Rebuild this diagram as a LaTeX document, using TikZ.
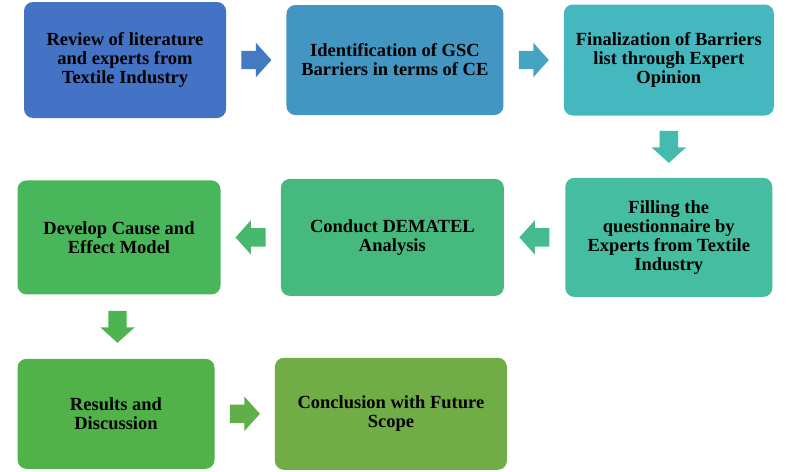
\documentclass[tikz,border=0pt]{standalone}
\usepackage{fontspec}
\setmainfont{Liberation Serif}
\usetikzlibrary{positioning}
\usetikzlibrary{calc}
\usetikzlibrary{shapes.arrows}
\definecolor{cone}{HTML}{4472C4}
\definecolor{ctwo}{HTML}{4396C2}
\definecolor{cthree}{HTML}{45B8BF}
\definecolor{cfour}{HTML}{44BDA0}
\definecolor{cfive}{HTML}{46BA7E}
\definecolor{csix}{HTML}{4AB65B}
\definecolor{cseven}{HTML}{50B248}
\definecolor{ceight}{HTML}{70AD47}
\tikzset{stage/.style={rounded corners=9pt, inner sep=0pt, align=center, font=\bfseries\fontsize{18.5}{19}\selectfont}}
\tikzset{flow/.style={single arrow, draw=none, anchor=tail, inner xsep=0pt, inner ysep=9pt, minimum height=30pt, single arrow head extend=8pt, single arrow tip angle=96}}

\begin{document}
\begin{tikzpicture}[x=1pt,y=-1pt]
\fill[white] (0,0) rectangle (791,471);
\useasboundingbox (0,0) rectangle (791,471);

\node[stage, fill=cone, minimum width=202pt, minimum height=116pt] (review) at (125,60) {Review of literature\\and experts from\\Textile Industry};
\node[stage, fill=ctwo, minimum width=217pt, minimum height=110pt, right=60pt of review] (ident) {Identification of GSC\\Barriers in terms of CE};
\node[stage, fill=cthree, minimum width=210pt, minimum height=111pt, right=60pt of ident] (final) {Finalization of Barriers\\list through Expert\\Opinion};
\node[stage, fill=cfour, minimum width=207pt, minimum height=119pt, below=62pt of final] (fill) {Filling the\\questionnaire by\\Experts from Textile\\Industry};
\node[stage, fill=cfive, minimum width=223pt, minimum height=117pt, left=61pt of fill] (dematel) {Conduct DEMATEL\\Analysis};
\node[stage, fill=csix, minimum width=203pt, minimum height=114pt, left=60pt of dematel] (model) {Develop Cause and\\Effect Model};
\node[stage, fill=cseven, minimum width=197pt, minimum height=110pt, below=64pt of model, xshift=-3pt] (results) {Results and\\Discussion};
\node[stage, fill=ceight, minimum width=232pt, minimum height=112pt, right=60pt of results] (concl) {Conclusion with Future\\Scope};

% block arrows between the stages (tail sits 15pt before the gap's middle)
\node[flow, fill=cone!80!ctwo] (f1) at ($(review.east)!0.5!(ident.west)+(-15,0)$) {};
\node[flow, fill=ctwo!60!cthree] (f2) at ($(ident.east)!0.5!(final.west)+(-15,0)$) {};
\node[flow, fill=cthree!50!cfour, rotate=-90, minimum height=32pt] (f3) at ($(final.south)!0.5!(fill.north)+(0,-16)$) {};
\node[flow, fill=cfour!50!cfive, rotate=180] (f4) at ($(fill.west)!0.5!(dematel.east)+(15,0)$) {};
\node[flow, fill=cfive!50!csix, rotate=180] (f5) at ($(dematel.west)!0.5!(model.east)+(15,0)$) {};
\node[flow, fill=csix!50!cseven, rotate=-90, minimum height=32pt] (f6) at ($(model.south)!0.5!(results.north)+(0,-16)$) {};
\node[flow, fill=cseven!50!ceight] (f7) at ($(results.east)!0.5!(concl.west)+(-15,0)$) {};
\end{tikzpicture}
\end{document}
